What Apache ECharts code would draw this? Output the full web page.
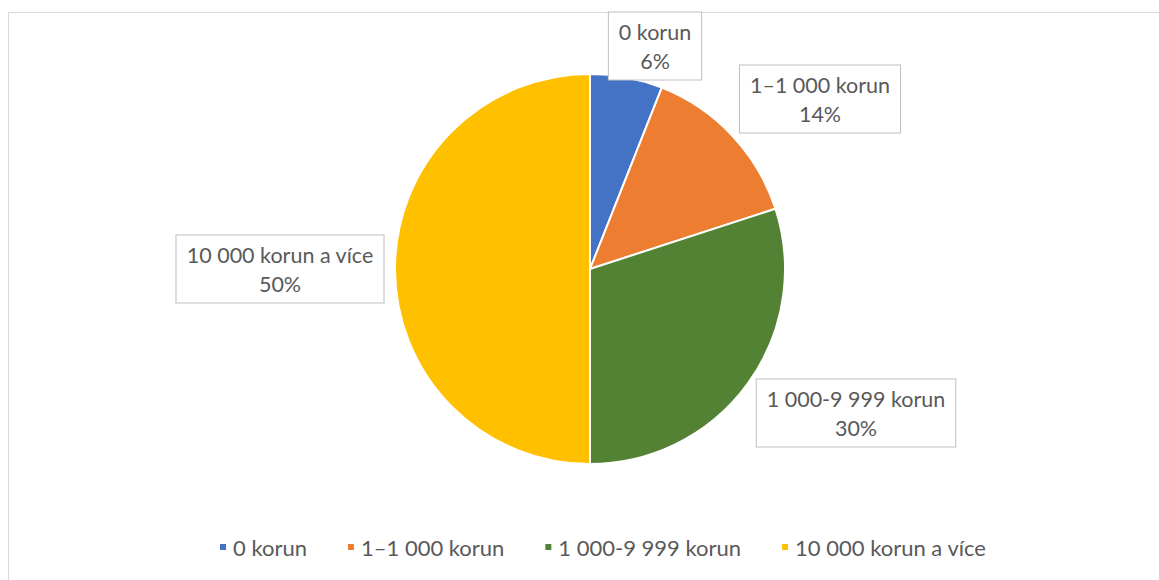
<!DOCTYPE html>
<html>
<head>
<meta charset="utf-8">
<style>
	html, body { margin: 0; padding: 0; background: #fff; }
	#chart { width: 1159px; height: 580px; }
</style>
<script src="https://cdn.jsdelivr.net/npm/echarts@6/dist/echarts.min.js"></script>
</head>
<body>
<div id="chart"></div>
<script>
	const categories = ['0 korun', '1–1 000 korun', '1 000-9 999 korun', '10 000 korun a více']
	const shares = [6, 14, 30, 50]
	const colors = ['#4472C4', '#ED7D31', '#548235', '#FFC000']

	// label box centres, placed as in the original
	const labelSpots = [[655, 46], [820, 99], [856, 413], [280, 269]]

	const chart = echarts.init(document.getElementById('chart'), null, { renderer: 'svg' })

	chart.setOption({
		color: colors,
		textStyle: { fontFamily: 'Lato, "Open Sans", sans-serif' },
		graphic: [{
			type: 'rect',
			shape: { x: 8.5, y: 12.5, width: 1200, height: 620 },
			style: { fill: 'none', stroke: '#d9d9d9', lineWidth: 1 },
			silent: true
		}],
		legend: {
			bottom: 17,
			left: 213,
			icon: 'rect',
			itemWidth: 8,
			itemHeight: 8,
			itemGap: 39,
			textStyle: { color: '#595959', fontSize: 22, fontFamily: 'Lato, sans-serif', padding: [0, 0, 0, 1] },
			data: categories
		},
		series: [{
			type: 'pie',
			center: [590, 269],
			radius: 195,
			startAngle: 90,
			clockwise: true,
			itemStyle: { borderColor: '#fff', borderWidth: 2 },
			label: {
				show: true,
				formatter: '{b}\n{c}%',
				color: '#595959',
				fontSize: 21.5,
				fontFamily: 'Lato, sans-serif',
				lineHeight: 29,
				align: 'center',
				backgroundColor: '#fff',
				borderColor: '#bfbfbf',
				borderWidth: 1,
				padding: [5, 10, 4, 10]
			},
			labelLine: { show: false },
			labelLayout: (params) => {
				const spot = labelSpots[params.dataIndex]
				return { x: spot[0], y: spot[1], align: 'center', verticalAlign: 'middle' }
			},
			emphasis: { disabled: true },
			data: categories.map((name, i) => ({ name: name, value: shares[i] }))
		}]
	})
</script>
</body>
</html>
